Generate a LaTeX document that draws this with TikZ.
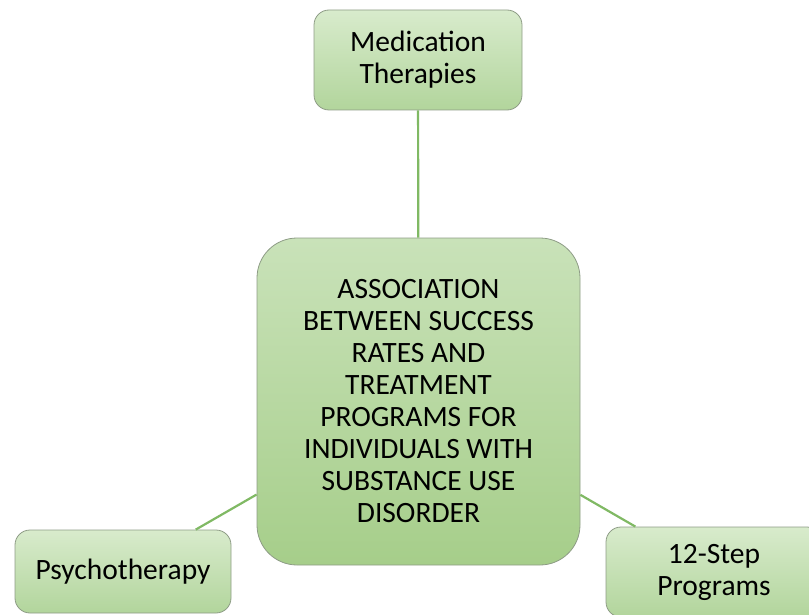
\documentclass[tikz,border=0pt]{standalone}
\usepackage{fontspec}
\setmainfont{Carlito}
\usetikzlibrary{shapes}
\definecolor{boxtop}{HTML}{D8EBCC}
\definecolor{boxbottom}{HTML}{B2D59C}
\definecolor{maintop}{HTML}{C9E2B9}
\definecolor{mainbottom}{HTML}{A6CE8A}
\definecolor{boxline}{HTML}{8E9C86}
\definecolor{linkgreen}{HTML}{80B964}
\begin{document}
\begin{tikzpicture}[x=1pt, y=-1pt]
			\tikzstyle{topicnode}=[
			draw=boxline,
			line width=0.8pt,
			rectangle,
			rounded corners=15pt,
			top color=boxtop,
			bottom color=boxbottom,
			align=center,
			font=\fontsize{29.5}{32}\selectfont
			]
			\tikzstyle{mainnode}=[
			topicnode,
			rounded corners=40pt,
			top color=maintop,
			bottom color=mainbottom,
			minimum width=323pt,
			minimum height=327pt
			]
			\tikzstyle{link}=[draw=linkgreen, line width=2.2pt]
			\useasboundingbox (0,0) rectangle (809,615);
			\node[mainnode] (MAIN) at (418.5,401.5) {ASSOCIATION\\BETWEEN SUCCESS\\RATES AND\\TREATMENT\\PROGRAMS FOR\\INDIVIDUALS WITH\\SUBSTANCE USE\\DISORDER};
			\node[topicnode, minimum width=208pt, minimum height=100pt] (MED) at (418,60) {Medication\\Therapies};
			\node[topicnode, minimum width=216pt, minimum height=83pt] (PSY) at (123,571.5) {Psychotherapy};
			\node[topicnode, minimum width=216pt, minimum height=90pt] (STEP) at (714,572) {12-Step\\Programs};
			%
			\draw[link] (MED) -- (MAIN);
			\draw[link] (MAIN) -- (PSY);
			\draw[link] (MAIN) -- (STEP);
		\end{tikzpicture}
\end{document}
